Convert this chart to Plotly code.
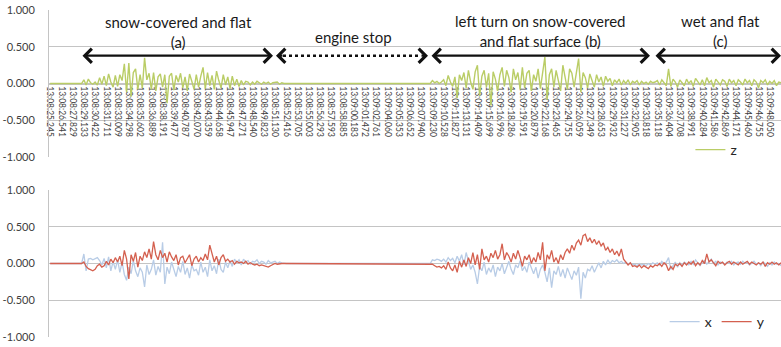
import plotly.graph_objects as go

# ---------------- data ----------------
tick_labels = [
    "13:08:25.245", "13:08:26.541", "13:08:27.829", "13:08:29.133", "13:08:30.422",
    "13:08:31.711", "13:08:33.009", "13:08:34.298", "13:08:35.602", "13:08:36.889",
    "13:08:38.191", "13:08:39.477", "13:08:40.787", "13:08:42.070", "13:08:43.359",
    "13:08:44.658", "13:08:45.947", "13:08:47.271", "13:08:48.540", "13:08:49.823",
    "13:08:51.130", "13:08:52.416", "13:08:53.705", "13:08:55.003", "13:08:56.293",
    "13:08:57.593", "13:08:58.885", "13:09:00.183", "13:09:01.472", "13:09:02.761",
    "13:09:04.060", "13:09:05.353", "13:09:06.652", "13:09:07.940", "13:09:09.230",
    "13:09:10.528", "13:09:11.827", "13:09:13.131", "13:09:14.409", "13:09:15.699",
    "13:09:16.996", "13:09:18.286", "13:09:19.591", "13:09:20.879", "13:09:22.168",
    "13:09:23.465", "13:09:24.755", "13:09:26.059", "13:09:27.349", "13:09:28.653",
    "13:09:29.932", "13:09:31.227", "13:09:32.905", "13:09:33.818", "13:09:35.118",
    "13:09:36.404", "13:09:37.708", "13:09:38.991", "13:09:40.284", "13:09:41.586",
    "13:09:42.869", "13:09:44.171", "13:09:45.460", "13:09:46.755", "13:09:48.050",
]
samples_per_label = 5

y_tick_vals = [1.0, 0.5, 0.0, -0.5, -1.0]
y_tick_text = ["1.000", "0.500", "0.000", "-0.500", "-1.000"]

# sample indices of each recorded stretch
idx_start_flat = [0, 14]
idx_a = list(range(15, 105))
idx_stop_flat = [105, 169]
idx_bc = list(range(170, 326))

# flat (engine idle / stopped) readings
flat_start = [0.0, 0.0]
flat_stop = [0.0, 0.0]

# z acceleration
z_a = [0.05, -0.02, 0.06, 0.01, -0.01, 0.02, -0.02, 0.08, -0.01, 0.10,
       -0.03, 0.13, 0.02, -0.05, 0.11, -0.04, 0.12, 0.04, 0.27, -0.12,
       0.28, -0.18, 0.15, 0.20, -0.08, 0.12, -0.06, 0.35, 0.05, 0.14,
       -0.08, 0.15, -0.10, 0.09, 0.13, -0.05, 0.12, -0.27, 0.10, 0.14,
       -0.09, 0.11, 0.02, 0.14, -0.06, 0.09, -0.10, 0.13, 0.03, -0.08,
       0.12, -0.05, 0.10, 0.22, -0.07, 0.15, -0.03, 0.11, -0.08, 0.17,
       0.04, -0.06, 0.12, -0.02, 0.09, -0.07, 0.10, -0.03, 0.06, -0.04,
       0.04, -0.02, 0.03, 0.02, -0.02, 0.02, -0.01, 0.03, 0.01, -0.01,
       0.02, 0.00, 0.02, -0.01, 0.01, 0.01, 0.02, -0.01, 0.01, 0.00]
z_b = [0.04, 0.01, 0.03, 0.00, 0.02, 0.05, -0.03, 0.11, 0.02, -0.04,
       0.09, -0.20, 0.12, 0.04, 0.15, -0.06, 0.18, 0.02, -0.08, 0.16,
       0.25, -0.17, 0.10, 0.18, -0.05, 0.14, -0.30, 0.16, 0.06, -0.10,
       0.12, 0.22, -0.04, 0.18, 0.08, -0.12, 0.20, 0.05, 0.15, -0.08,
       0.22, -0.06, 0.14, 0.18, -0.10, 0.12, 0.03, 0.20, -0.07, 0.15,
       0.36, -0.22, 0.12, 0.20, -0.05, 0.18, 0.02, -0.10, 0.25, 0.10,
       -0.08, 0.20, 0.14, -0.05, 0.17, 0.34, -0.12, 0.15, 0.08, -0.06,
       0.13, 0.04, -0.05, 0.12, 0.02, 0.09, -0.04, 0.10, 0.03, 0.07,
       -0.03, 0.05, 0.01, 0.06, -0.02, 0.04, 0.00, 0.05, -0.02, 0.03,
       0.01, 0.04, -0.02, 0.03, 0.00, 0.02, -0.01, 0.03, 0.01, 0.02]
z_c = [0.04, -0.02, 0.05, 0.01, -0.03, 0.20, -0.04, 0.06, 0.02, -0.05,
       0.05, 0.01, -0.03, 0.06, 0.00, 0.04, -0.04, 0.07, 0.02, -0.02,
       0.05, -0.03, 0.08, 0.01, 0.04, -0.05, 0.06, 0.02, -0.02, 0.05,
       0.03, -0.04, 0.06, 0.01, 0.04, -0.03, 0.05, 0.02, -0.02, 0.06,
       0.01, 0.04, -0.03, 0.05, 0.02, -0.06, 0.04, 0.01, 0.05, -0.02,
       0.03, 0.00, 0.04, -0.03, 0.02, 0.01]

# x acceleration
x_a = [0.13, -0.10, 0.06, 0.07, 0.05, 0.06, 0.08, 0.04, -0.02, 0.07,
       -0.06, 0.09, -0.10, 0.03, -0.08, 0.05, -0.12, 0.02, -0.15, -0.23,
       -0.05, -0.14, 0.04, -0.10, -0.18, -0.06, -0.12, -0.32, -0.02, -0.15,
       -0.08, 0.05, -0.16, -0.04, -0.12, 0.29, -0.28, -0.05, -0.14, 0.02,
       -0.10, -0.18, -0.04, -0.12, 0.03, -0.15, -0.06, -0.20, -0.02, -0.10,
       -0.08, -0.16, 0.02, -0.12, -0.05, -0.18, 0.05, -0.10, -0.03, -0.14,
       0.06, -0.08, -0.12, 0.02, -0.06, 0.04, -0.04, 0.06, 0.01, 0.05,
       -0.02, 0.06, 0.02, 0.04, -0.01, 0.03, 0.02, 0.05, 0.00, 0.03,
       0.02, -0.01, 0.04, 0.01, 0.02, 0.03, 0.00, 0.02, 0.01, 0.00]
x_b = [0.05, 0.04, 0.06, 0.05, 0.03, 0.06, 0.02, 0.08, 0.04, 0.07,
       0.01, 0.10, 0.03, 0.12, -0.02, 0.15, 0.04, -0.08, -0.02, -0.12,
       -0.28, -0.04, -0.10, 0.02, -0.15, -0.06, -0.12, -0.02, -0.18, -0.05,
       -0.10, 0.00, -0.14, -0.06, 0.03, -0.08, -0.15, -0.02, -0.06, 0.04,
       -0.10, -0.04, -0.12, 0.02, -0.07, -0.14, -0.05, -0.20, -0.08, -0.02,
       -0.12, -0.25, -0.06, -0.33, -0.10, -0.15, -0.04, -0.18, -0.08, -0.20,
       -0.06, -0.14, -0.22, -0.10, -0.16, -0.05, -0.48, -0.12, -0.20, -0.08,
       -0.10, -0.03, -0.12, -0.05, 0.01, -0.06, 0.03, -0.02, 0.05, 0.00,
       0.04, 0.02, 0.05, 0.01, 0.03, 0.00, 0.02, -0.01, 0.01, -0.02,
       -0.01, -0.03, 0.00, -0.02, -0.01, -0.03, 0.00, -0.02, 0.01, -0.01]
x_c = [0.01, -0.02, 0.03, -0.01, 0.02, 0.08, -0.08, -0.03, 0.02, -0.05,
       0.01, -0.03, 0.02, 0.00, -0.02, 0.03, -0.01, 0.05, 0.01, -0.03,
       0.02, 0.04, -0.01, 0.03, 0.06, 0.00, 0.03, -0.02, 0.02, 0.01,
       -0.01, 0.02, 0.00, 0.03, -0.02, 0.01, 0.02, -0.01, 0.03, 0.00,
       0.02, -0.02, 0.01, 0.03, -0.01, 0.01, -0.03, 0.02, 0.00, -0.04,
       0.01, -0.02, 0.02, -0.01, 0.00, -0.03]

# y acceleration
y_a = [0.02, -0.04, -0.07, -0.09, -0.10, -0.08, -0.03, -0.01, -0.05, -0.03,
       0.03, -0.02, 0.06, 0.01, 0.08, 0.02, 0.10, -0.03, 0.18, 0.06,
       -0.21, 0.12, 0.03, 0.15, -0.05, 0.10, 0.04, 0.16, 0.08, 0.20,
       0.06, 0.30, 0.12, 0.05, 0.18, 0.08, 0.14, 0.02, 0.16, 0.09,
       0.04, 0.12, -0.02, 0.08, 0.10, 0.01, 0.07, 0.12, -0.03, 0.06,
       0.10, 0.02, 0.08, 0.04, 0.13, 0.05, 0.25, 0.12, 0.02, 0.10,
       -0.02, 0.08, 0.12, 0.03, 0.06, 0.02, 0.04, -0.01, 0.03, 0.01,
       0.02, 0.00, 0.03, -0.01, 0.01, -0.01, -0.02, -0.01, -0.03, -0.02,
       -0.03, -0.04, -0.05, -0.03, -0.01, 0.00, -0.01, 0.00, 0.00, 0.00]
y_b = [-0.01, -0.03, -0.05, -0.04, -0.06, -0.03, -0.08, 0.02, -0.06, -0.10,
       -0.02, -0.12, 0.03, -0.05, 0.05, -0.04, 0.08, 0.00, 0.15, -0.02,
       0.12, -0.08, 0.20, 0.05, 0.10, 0.02, 0.14, 0.08, 0.18, 0.06,
       0.12, 0.27, 0.05, 0.15, 0.10, 0.02, 0.14, 0.06, 0.18, 0.08,
       -0.04, 0.10, 0.05, 0.12, 0.00, 0.08, 0.02, 0.15, 0.05, 0.29,
       -0.10, 0.12, 0.06, 0.18, 0.02, 0.08, 0.00, 0.12, 0.05, 0.15,
       0.20, 0.14, 0.25, 0.18, 0.28, 0.32, 0.25, 0.38, 0.40, 0.30,
       0.35, 0.28, 0.33, 0.26, 0.31, 0.24, 0.28, 0.18, 0.22, 0.15,
       0.20, 0.12, 0.17, 0.10, 0.20, 0.06, 0.02, -0.02, 0.01, -0.04,
       -0.03, -0.05, -0.02, -0.06, -0.03, -0.05, -0.07, -0.03, -0.05, -0.02]
y_c = [-0.03, 0.00, -0.04, 0.01, -0.02, -0.10, -0.04, -0.08, -0.01, -0.03,
       0.00, -0.04, 0.01, -0.02, 0.02, -0.01, 0.03, -0.03, 0.01, -0.02,
       0.04, 0.00, 0.13, 0.02, 0.05, 0.01, -0.03, 0.03, 0.00, 0.02,
       -0.02, 0.01, 0.03, -0.01, 0.02, 0.00, -0.02, 0.02, -0.01, 0.01,
       0.03, -0.01, 0.02, 0.00, -0.02, 0.01, -0.01, 0.02, -0.04, 0.01,
       -0.01, 0.02, -0.01, 0.01, -0.02, 0.01]

# ---------------- assemble ----------------
sample_idx = idx_start_flat + idx_a + idx_stop_flat + idx_bc
z_vals = flat_start + z_a + flat_stop + z_b + z_c
x_vals = flat_start + x_a + flat_stop + x_b + x_c
y_vals = flat_start + y_a + flat_stop + y_b + y_c

tick_vals = [samples_per_label * i for i in range(len(tick_labels))]

GREEN = "#BACD66"
BLUE = "#B8CCE6"
RED = "#D4604F"
GRID = "#C4C4C4"
FONT = "Lato"

W, H = 781, 347
top_dom = [1 - 157 / H, 1 - 10 / H]
bot_dom = [1 - 337 / H, 1 - 190 / H]
x_dom = [49 / W, 1.0]
x_range = [-0.5, 325.0]
y_range = [-1.004, 1.004]

fig = go.Figure()
fig.add_trace(go.Scatter(x=sample_idx, y=z_vals, mode="lines", name="z",
                         line=dict(color=GREEN, width=1.4),
                         xaxis="x", yaxis="y", legend="legend"))
fig.add_trace(go.Scatter(x=sample_idx, y=x_vals, mode="lines", name="x",
                         line=dict(color=BLUE, width=1.3),
                         xaxis="x2", yaxis="y2", legend="legend2"))
fig.add_trace(go.Scatter(x=sample_idx, y=y_vals, mode="lines", name="y",
                         line=dict(color=RED, width=1.3),
                         xaxis="x2", yaxis="y2", legend="legend2"))

yaxis_common = dict(range=y_range, tickmode="array", tickvals=y_tick_vals,
                    ticktext=y_tick_text, showgrid=True, gridcolor=GRID,
                    gridwidth=1, zeroline=False, showline=True,
                    linecolor=GRID, linewidth=1, automargin=False,
                    tickfont=dict(family=FONT, size=11, color="#404040"),
                    ticks="", ticklabelstandoff=11, fixedrange=True)

fig.update_layout(
    width=W, height=H,
    margin=dict(l=0, r=0, t=0, b=0, autoexpand=False),
    paper_bgcolor="white", plot_bgcolor="white",
    xaxis=dict(domain=x_dom, range=x_range, anchor="free", automargin=False,
               position=(top_dom[0] + top_dom[1]) / 2,
               tickmode="array", tickvals=tick_vals, ticktext=tick_labels,
               tickangle=90, tickfont=dict(family=FONT, size=8.5, color="#404040"),
               showgrid=False, zeroline=False, showline=True,
               linecolor=GRID, layer="below traces", ticks=""),
    yaxis=dict(domain=top_dom, anchor="x", **yaxis_common),
    xaxis2=dict(domain=x_dom, range=x_range, anchor="y2", matches="x",
                automargin=False,
                showticklabels=False, showgrid=False, zeroline=False,
                showline=False, ticks=""),
    yaxis2=dict(domain=bot_dom, anchor="x2", **yaxis_common),
    legend=dict(x=0.884, y=1 - 150 / H, xanchor="left", yanchor="middle",
                bgcolor="rgba(0,0,0,0)", font=dict(family=FONT, size=14, color="#262626")),
    legend2=dict(orientation="h", x=0.851, y=1 - 322 / H, xanchor="left",
                 yanchor="middle", bgcolor="rgba(0,0,0,0)",
                 font=dict(family=FONT, size=14, color="#262626")),
    showlegend=True,
)

# ---------------- annotations (region labels and arrows) ----------------
px2s = (x_range[1] - x_range[0]) / (W - 49)
def sx(px):
    return x_range[0] + (px - 49) * px2s

arrow_y = 0.38
txt_font = dict(family=FONT, size=15, color="#1a1a1a")
head = dict(arrowhead=4, startarrowhead=4, arrowsize=1.25, startarrowsize=1.25,
            arrowwidth=2.2, arrowcolor="#111111")

def dbl_arrow(x0, x1):
    fig.add_annotation(x=sx(x1), y=arrow_y, ax=sx(x0), ay=arrow_y,
                       xref="x", yref="y", axref="x", ayref="y",
                       showarrow=True, arrowside="end+start", text="", **head)

dbl_arrow(81, 273)
dbl_arrow(430, 650)
dbl_arrow(654, 781)

# dotted "engine stop" arrow
fig.add_shape(type="line", xref="x", yref="y", x0=sx(283), x1=sx(421),
              y0=arrow_y, y1=arrow_y, line=dict(color="#111111", width=2.5, dash="dot"))
fig.add_annotation(x=sx(428), y=arrow_y, ax=-8, ay=0, xref="x", yref="y",
                   showarrow=True, text="", **head)
fig.add_annotation(x=sx(276), y=arrow_y, ax=8, ay=0, xref="x", yref="y",
                   showarrow=True, text="", **head)

for label, cx, cy in [("snow-covered and flat<br>(a)", 178, 31.5),
                      ("engine stop", 353, 37),
                      ("left turn on snow-covered<br>and flat surface (b)", 540, 31),
                      ("wet and flat<br>(c)", 720, 31)]:
    fig.add_annotation(x=cx / W, y=1 - cy / H, xref="paper", yref="paper",
                       text=label, showarrow=False, font=txt_font,
                       xanchor="center", yanchor="middle", align="center")

fig.write_html("out.html", config={"displayModeBar": False},
               post_script="document.body.style.margin='0';")
